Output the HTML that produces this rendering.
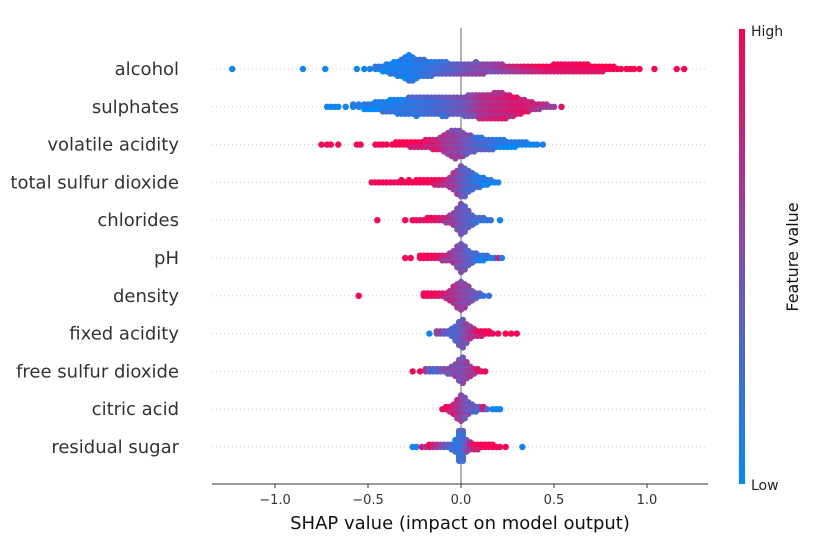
<!DOCTYPE html>
<html><head><meta charset="utf-8"><style>
body{margin:0;background:#fff;}
svg{display:block;font-family:"DejaVu Sans","Liberation Sans",sans-serif;}
</style></head><body>
<svg id="chart" width="813" height="542" viewBox="0 0 813 542" xmlns="http://www.w3.org/2000/svg">
<defs><linearGradient id="cb" x1="0" y1="1" x2="0" y2="0">
<stop offset="0" stop-color="#008bfb"/><stop offset="0.5" stop-color="#7f4fb0"/><stop offset="1" stop-color="#ff0052"/></linearGradient></defs>
<g id="grid"></g>
<line x1="461" y1="28" x2="461" y2="484" stroke="#999" stroke-width="1.5"/>
<g id="dots"></g>
<g id="labels"></g>
<line x1="212" y1="484" x2="708" y2="484" stroke="#333" stroke-width="1"/>
<g id="xticks"></g>
<text x="460" y="529" font-size="18" text-anchor="middle" fill="#111">SHAP value (impact on model output)</text>
<rect x="739" y="29" width="6" height="455" fill="url(#cb)"/>
<text x="751" y="36" font-size="14" fill="#222">High</text>
<text x="751" y="490" font-size="14" fill="#222">Low</text>
<text transform="translate(798,257) rotate(-90)" font-size="16" text-anchor="middle" fill="#111">Feature value</text>
</svg>
<script>
const features = ["alcohol","sulphates","volatile acidity","total sulfur dioxide","chlorides","pH","density","fixed acidity","free sulfur dioxide","citric acid","residual sugar"];
const xTicks = [-1.0,-0.5,0.0,0.5,1.0];
const xTickLabels = ["\u22121.0","\u22120.5","0.0","0.5","1.0"];
// [shap value, feature value (0..1), dot count]
const alcoholPts = [[-1.23,.05,1],[-0.85,.05,1],[-0.73,.05,1],[-0.56,.05,1],[-0.52,.08,1],[-0.49,.1,1],[-0.46,.1,2],[-0.44,.1,2],[-0.42,.1,3],[-0.40,.1,4],[-0.38,.1,5],[-0.36,.1,6],[-0.34,.1,7],[-0.32,.12,8],[-0.30,.1,10],[-0.28,.1,12],[-0.26,.12,11],[-0.24,.15,9],[-0.22,.15,8],[-0.20,.2,8],[-0.18,.2,7],[-0.16,.22,7],[-0.14,.25,6],[-0.12,.25,6],[-0.10,.28,6],[-0.08,.3,6],[-0.06,.3,5],[-0.04,.35,5],[-0.02,.38,5],[0,.4,5],[0.02,.42,5],[0.04,.45,5],[0.06,.48,5],[0.08,.5,6],[0.10,.5,5],[0.12,.52,5],[0.14,.55,4],[0.16,.55,4],[0.18,.58,4],[0.20,.6,4],[0.22,.62,4],[0.24,.65,3],[0.26,.68,3],[0.28,.7,3],[0.30,.72,3],[0.32,.75,3],[0.34,.78,3],[0.36,.8,3],[0.38,.82,3],[0.40,.85,3],[0.42,.88,3],[0.44,.9,3],[0.46,.9,3],[0.48,.92,3],[0.50,.92,4],[0.52,.92,4],[0.54,.95,4],[0.56,.92,4],[0.58,.95,4],[0.60,.92,4],[0.62,.95,4],[0.64,.95,4],[0.66,.95,4],[0.68,.95,4],[0.70,.95,3],[0.72,.95,3],[0.74,.95,3],[0.76,.97,3],[0.78,.97,2],[0.80,.97,2],[0.82,.97,2],[0.84,1,1],[0.86,1,1],[0.89,1,1],[0.91,1,1],[0.93,1,1],[0.96,1,1],[1.04,1,1],[1.16,1,1],[1.20,1,1]];
const sulphatesPts = [[-0.72,.05,1],[-0.70,.05,1],[-0.68,.05,1],[-0.66,.05,1],[-0.62,.05,1],[-0.58,.05,2],[-0.55,.08,2],[-0.52,.08,3],[-0.50,.1,3],[-0.48,.1,3],[-0.46,.1,4],[-0.44,.1,4],[-0.42,.12,5],[-0.40,.12,5],[-0.38,.12,6],[-0.36,.15,6],[-0.34,.15,7],[-0.32,.15,7],[-0.30,.18,7],[-0.28,.18,8],[-0.26,.2,8],[-0.24,.2,9],[-0.22,.22,8],[-0.20,.22,8],[-0.18,.25,8],[-0.16,.25,8],[-0.14,.28,8],[-0.12,.3,8],[-0.10,.3,9],[-0.08,.32,9],[-0.06,.35,8],[-0.04,.38,8],[-0.02,.4,8],[0,.42,8],[0.02,.45,9],[0.04,.5,10],[0.06,.55,10],[0.08,.6,10],[0.10,.65,11],[0.12,.68,11],[0.14,.7,11],[0.16,.72,11],[0.18,.75,12],[0.20,.75,12],[0.22,.78,12],[0.24,.78,11],[0.26,.8,10],[0.28,.82,9],[0.30,.85,8],[0.32,.85,7],[0.34,.85,6],[0.36,.8,5],[0.38,.8,4],[0.40,.75,3],[0.42,.7,3],[0.44,.65,2],[0.46,.6,2],[0.48,.6,1],[0.50,.6,1],[0.54,.9,1]];
const volatilePts = [[-0.75,.97,1],[-0.72,.97,1],[-0.70,.97,1],[-0.66,.97,1],[-0.56,.97,1],[-0.54,.97,1],[-0.46,.97,1],[-0.44,.97,1],[-0.42,.97,1],[-0.40,.97,1],[-0.37,.95,1],[-0.35,.95,2],[-0.33,.95,2],[-0.31,.95,2],[-0.29,.95,2],[-0.27,.92,3],[-0.25,.92,3],[-0.23,.92,3],[-0.21,.9,3],[-0.19,.88,4],[-0.17,.85,4],[-0.15,.8,5],[-0.13,.78,5],[-0.11,.72,6],[-0.09,.68,8],[-0.07,.62,10],[-0.05,.6,12],[-0.03,.58,13],[-0.01,.55,12],[0.01,.5,11],[0.03,.45,9],[0.05,.4,8],[0.07,.35,7],[0.09,.3,6],[0.11,.28,6],[0.13,.25,5],[0.15,.22,5],[0.17,.2,5],[0.19,.18,4],[0.21,.15,4],[0.23,.12,4],[0.25,.1,3],[0.27,.08,3],[0.29,.08,3],[0.31,.06,2],[0.33,.06,2],[0.35,.05,2],[0.37,.05,1],[0.39,.05,1],[0.41,.05,1],[0.44,.1,1]];
const tsdPts = [[-0.48,.97,1],[-0.46,.97,1],[-0.44,.97,1],[-0.42,.97,1],[-0.40,.95,1],[-0.38,.95,1],[-0.36,.9,1],[-0.34,.9,1],[-0.32,.9,2],[-0.30,.95,1],[-0.28,.95,2],[-0.26,.95,1],[-0.24,.95,2],[-0.22,.95,2],[-0.20,.92,2],[-0.18,.92,2],[-0.16,.9,2],[-0.14,.88,3],[-0.12,.85,3],[-0.10,.8,3],[-0.08,.72,3],[-0.06,.65,5],[-0.04,.6,8],[-0.02,.55,11],[0,.45,14],[0.02,.38,13],[0.04,.3,10],[0.06,.25,8],[0.08,.2,6],[0.10,.15,5],[0.12,.12,4],[0.14,.1,3],[0.16,.08,2],[0.18,.08,1],[0.20,.05,1]];
const chloridesPts = [[-0.45,1,1],[-0.30,1,1],[-0.26,.95,1],[-0.24,.95,1],[-0.22,.9,1],[-0.20,.9,1],[-0.18,.88,2],[-0.16,.88,2],[-0.14,.85,2],[-0.12,.8,2],[-0.10,.75,2],[-0.08,.7,3],[-0.06,.65,4],[-0.04,.6,6],[-0.02,.5,10],[0,.45,14],[0.02,.38,12],[0.04,.35,8],[0.06,.3,5],[0.08,.25,3],[0.10,.22,2],[0.12,.2,2],[0.14,.2,1],[0.16,.2,1],[0.21,.05,1]];
const phPts = [[-0.30,.97,1],[-0.27,.97,1],[-0.22,.92,2],[-0.20,.92,2],[-0.18,.9,2],[-0.16,.88,2],[-0.14,.85,2],[-0.12,.8,2],[-0.10,.75,3],[-0.08,.7,3],[-0.06,.65,4],[-0.04,.6,6],[-0.02,.55,10],[0,.5,13],[0.02,.42,11],[0.04,.35,7],[0.06,.3,5],[0.08,.25,4],[0.10,.15,3],[0.12,.12,3],[0.14,.15,2],[0.16,.1,1],[0.18,.1,1],[0.20,.9,1],[0.22,.1,1]];
const densityPts = [[-0.55,1,1],[-0.20,.95,2],[-0.18,.92,2],[-0.16,.9,2],[-0.14,.88,2],[-0.12,.85,2],[-0.10,.8,2],[-0.08,.75,3],[-0.06,.72,5],[-0.04,.68,8],[-0.02,.62,11],[0,.58,13],[0.02,.55,11],[0.04,.5,8],[0.06,.45,5],[0.08,.4,3],[0.10,.3,2],[0.12,.2,1],[0.15,.2,1]];
const fixedPts = [[-0.17,.05,1],[-0.13,.5,2],[-0.11,.55,2],[-0.09,.35,2],[-0.07,.3,2],[-0.05,.3,4],[-0.03,.32,7],[-0.01,.38,11],[0.01,.45,13],[0.03,.55,9],[0.05,.65,6],[0.07,.75,4],[0.09,.85,3],[0.11,.88,3],[0.13,.9,2],[0.15,.92,2],[0.17,.95,1],[0.20,.95,1],[0.24,1,1],[0.27,1,1],[0.30,1,1]];
const freeSo2Pts = [[-0.26,.97,1],[-0.22,.97,1],[-0.19,.6,2],[-0.17,.3,2],[-0.15,.2,2],[-0.13,.25,2],[-0.11,.35,2],[-0.09,.45,2],[-0.07,.5,3],[-0.05,.5,4],[-0.03,.55,6],[-0.01,.5,10],[0.01,.5,12],[0.03,.55,8],[0.05,.6,5],[0.07,.7,3],[0.09,.8,2],[0.11,.9,1],[0.13,.95,1]];
const citricPts = [[-0.10,.9,1],[-0.08,.9,2],[-0.06,.85,3],[-0.04,.8,5],[-0.02,.7,9],[0,.6,12],[0.02,.5,10],[0.04,.45,6],[0.06,.4,4],[0.08,.35,3],[0.10,.3,2],[0.12,.85,2],[0.14,.25,1],[0.17,.1,1],[0.19,.05,1],[0.21,.05,1]];
const sugarPts = [[-0.26,.05,1],[-0.24,.05,1],[-0.21,.9,1],[-0.19,.6,1],[-0.17,.95,2],[-0.15,.7,2],[-0.13,.6,2],[-0.11,.5,2],[-0.09,.4,2],[-0.07,.3,2],[-0.05,.25,3],[-0.03,.2,6],[-0.01,.2,14],[0.01,.25,14],[0.03,.45,6],[0.05,.75,4],[0.07,.85,3],[0.09,.9,3],[0.11,.92,2],[0.13,.95,2],[0.15,.95,2],[0.17,.97,2],[0.19,.97,1],[0.21,.97,1],[0.24,1,1],[0.33,.05,1]];
const featurePoints = [alcoholPts,sulphatesPts,volatilePts,tsdPts,chloridesPts,phPts,densityPts,fixedPts,freeSo2Pts,citricPts,sugarPts];

const NS = "http://www.w3.org/2000/svg";
const xScale = v => 461 + v * 186;
const yScale = i => 69 + i * 37.8;
function colorOf(v){
  const a=[0,139,251], m=[127,79,176], b=[255,0,82];
  let c;
  if(v<0.5){const t=v/0.5;c=a.map((x,i)=>Math.round(x+(m[i]-x)*t));}
  else{const t=(v-0.5)/0.5;c=m.map((x,i)=>Math.round(x+(b[i]-x)*t));}
  return "rgb("+c.join(",")+")";
}
const grid=document.getElementById("grid"), dots=document.getElementById("dots"), labels=document.getElementById("labels"), xt=document.getElementById("xticks");
features.forEach((f,i)=>{
  const y=yScale(i);
  const ln=document.createElementNS(NS,"line");
  
  
  ln.setAttribute("x1",212);ln.setAttribute("x2",708);ln.setAttribute("y1",y);ln.setAttribute("y2",y);
  ln.setAttribute("stroke","#ccc");ln.setAttribute("stroke-width","1");ln.setAttribute("stroke-dasharray","1 3");
  grid.appendChild(ln);
  const t=document.createElementNS(NS,"text");
  
  
  t.setAttribute("x",179);t.setAttribute("y",y+6);t.setAttribute("text-anchor","end");t.setAttribute("font-size","18");t.setAttribute("fill","#333");
  t.textContent=f;labels.appendChild(t);
  const g=document.createElementNS(NS,"g");
  
  
  featurePoints[i].forEach(p=>{
    const [s,v,n]=p;
    for(let k=0;k<n;k++){
      const off=((k+1)>>1)*2.3*(k%2?-1:1);
      const vv=Math.max(0,Math.min(1,v+(k%3===1?0.08:(k%3===2?-0.08:0))));
      const c=document.createElementNS(NS,"circle");
      
      
      c.setAttribute("cx",xScale(s));c.setAttribute("cy",y+off);c.setAttribute("r","3.2");
      c.setAttribute("fill",colorOf(vv));
      g.appendChild(c);
    }
  });
  dots.appendChild(g);
});
xTicks.forEach((v,i)=>{
  const x=xScale(v);
  const l=document.createElementNS(NS,"line");
  
  
  l.setAttribute("x1",x);l.setAttribute("x2",x);l.setAttribute("y1",484);l.setAttribute("y2",488);l.setAttribute("stroke","#333");
  xt.appendChild(l);
  const t=document.createElementNS(NS,"text");
  
  
  t.setAttribute("x",x);t.setAttribute("y",504);t.setAttribute("text-anchor","middle");t.setAttribute("font-size","13");t.setAttribute("fill","#333");
  t.textContent=xTickLabels[i];xt.appendChild(t);
});
</script>
</body></html>
